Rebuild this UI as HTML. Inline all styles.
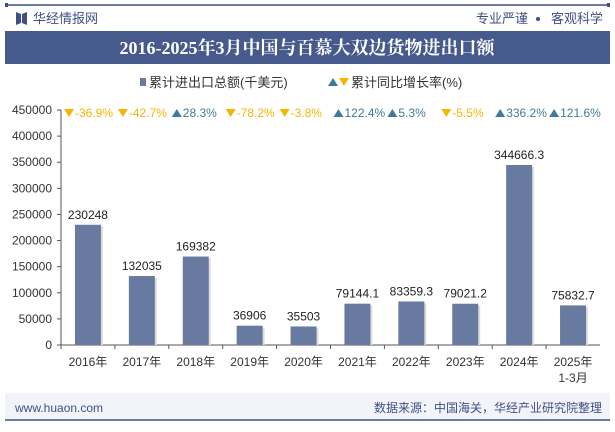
<!DOCTYPE html>
<html><head><meta charset="utf-8"><style>
body{margin:0;width:615px;height:427px;overflow:hidden;background:#fff;font-family:"Liberation Sans","Noto Sans CJK SC",sans-serif;}
svg text{font-family:"Liberation Sans","Noto Sans CJK SC",sans-serif;}
</style></head><body>
<svg width="615" height="427">
<line x1="5" y1="5" x2="610" y2="5" stroke="#3e4f86" stroke-width="1.5"/>
<rect x="5" y="3" width="3" height="4" fill="#3e4f86"/><rect x="607" y="3" width="3" height="4" fill="#3e4f86"/>
<g><polygon points="16,12 21,14 21,23 16,25" fill="#3e4f86"/><polygon points="22,14 27,12 27,25 22,23" fill="#3e4f86"/></g>
<text x="33" y="23" font-size="13" fill="#3e4f86">华经情报网</text>
<text x="528" y="23" font-size="13" fill="#3e4f86" text-anchor="end">专业严谨</text>
<circle cx="538" cy="19" r="2" fill="#3e4f86"/>
<text x="603" y="23" font-size="13" fill="#3e4f86" text-anchor="end">客观科学</text>
<rect x="5" y="31" width="605" height="33" fill="#475a8e"/>
<text x="307" y="54" font-size="18" font-weight="bold" fill="#fff" text-anchor="middle" style="font-family:'Liberation Serif','Noto Serif CJK SC',serif">2016-2025年3月中国与百慕大双边货物进出口额</text>
<g>
<rect x="140" y="78" width="6" height="8" fill="#687aa0"/>
<text x="149" y="87" font-size="13" fill="#333">累计进出口总额(千美元)</text>
<polygon points="328,86 333,78 338,86" fill="#3f7a9a"/>
<polygon points="339,78 349,78 344,86" fill="#f7b500"/>
<text x="351" y="87" font-size="13" fill="#333">累计同比增长率(%)</text>
</g>
<g id="axes"></g><g id="bars"></g>
<rect x="5" y="393" width="605" height="26" fill="#f3f4f9"/>
<text x="15" y="412" font-size="12" fill="#3e4f86">www.huaon.com</text>
<text x="602" y="412" font-size="12" fill="#3e4f86" text-anchor="end">数据来源：中国海关，华经产业研究院整理</text>
<line x1="5" y1="420" x2="610" y2="420" stroke="#3e4f86" stroke-width="1.5"/>
</svg>
<script>
const categories=["2016年","2017年","2018年","2019年","2020年","2021年","2022年","2023年","2024年","2025年"];
const values=[230248,132035,169382,36906,35503,79144.1,83359.3,79021.2,344666.3,75832.7];
const valueLabels=["230248","132035","169382","36906","35503","79144.1","83359.3","79021.2","344666.3","75832.7"];
const growth=[-36.9,-42.7,28.3,-78.2,-3.8,122.4,5.3,-5.5,336.2,121.6];
const growthLabels=["-36.9%","-42.7%","28.3%","-78.2%","-3.8%","122.4%","5.3%","-5.5%","336.2%","121.6%"];
const yTicks=[0,50000,100000,150000,200000,250000,300000,350000,400000,450000];
const NS="http://www.w3.org/2000/svg";
const x0=61,x1=600,y0=345,yTop=110,yMax=450000;
const bw=(x1-x0)/categories.length;
const ys=v=>y0-(v/yMax)*(y0-yTop);
const xc=i=>x0+bw*(i+0.5);
function mk(t,a,p){const e=document.createElementNS(NS,t);for(const k in a)e.setAttribute(k,a[k]);p.appendChild(e);return e;}
const ax=document.getElementById('axes'),bg=document.getElementById('bars');
const yl=mk('line',{x1:x0,y1:yTop,x2:x0,y2:y0,stroke:'#555'},ax);


const xl=mk('line',{x1:x0,y1:y0,x2:x1,y2:y0,stroke:'#555'},ax);


yTicks.forEach(v=>{mk('line',{x1:x0-4,y1:ys(v),x2:x0,y2:ys(v),stroke:'#555'},ax);
const t=mk('text',{x:x0-9,y:ys(v)+4,'font-size':12,fill:'#333','text-anchor':'end'},ax);t.textContent=v;

});
categories.forEach((c,i)=>{
mk('line',{x1:x0+bw*i,y1:y0,x2:x0+bw*i,y2:y0+4,stroke:'#555'},ax);
const t=mk('text',{x:xc(i),y:y0+21,'font-size':12,fill:'#333','text-anchor':'middle'},ax);t.textContent=c;


if(i==categories.length-1){const t2=mk('text',{x:xc(i),y:y0+37,'font-size':12,fill:'#333','text-anchor':'middle'},ax);t2.textContent='1-3月';}
mk('rect',{x:xc(i)-11,y:ys(values[i])+2,width:26,height:y0-ys(values[i])-2,fill:'#ddd'},bg);
const r=mk('rect',{x:xc(i)-13,y:ys(values[i]),width:26,height:y0-ys(values[i]),fill:'#687aa0'},bg);


const lb=mk('text',{x:xc(i),y:ys(values[i])-6,'font-size':12,fill:'#222','text-anchor':'middle'},bg);lb.textContent=valueLabels[i];


const up=growth[i]>=0,col=up?'#3f7a9a':'#f7b500',gx=x0+bw*i+3;
mk('polygon',{points:up?`${gx},117 ${gx+5},109 ${gx+10},117`:`${gx},109 ${gx+10},109 ${gx+5},117`,fill:col},bg);
const g=mk('text',{x:gx+11,y:117,'font-size':12,fill:col},bg);g.textContent=growthLabels[i];


});
</script>
</body></html>
